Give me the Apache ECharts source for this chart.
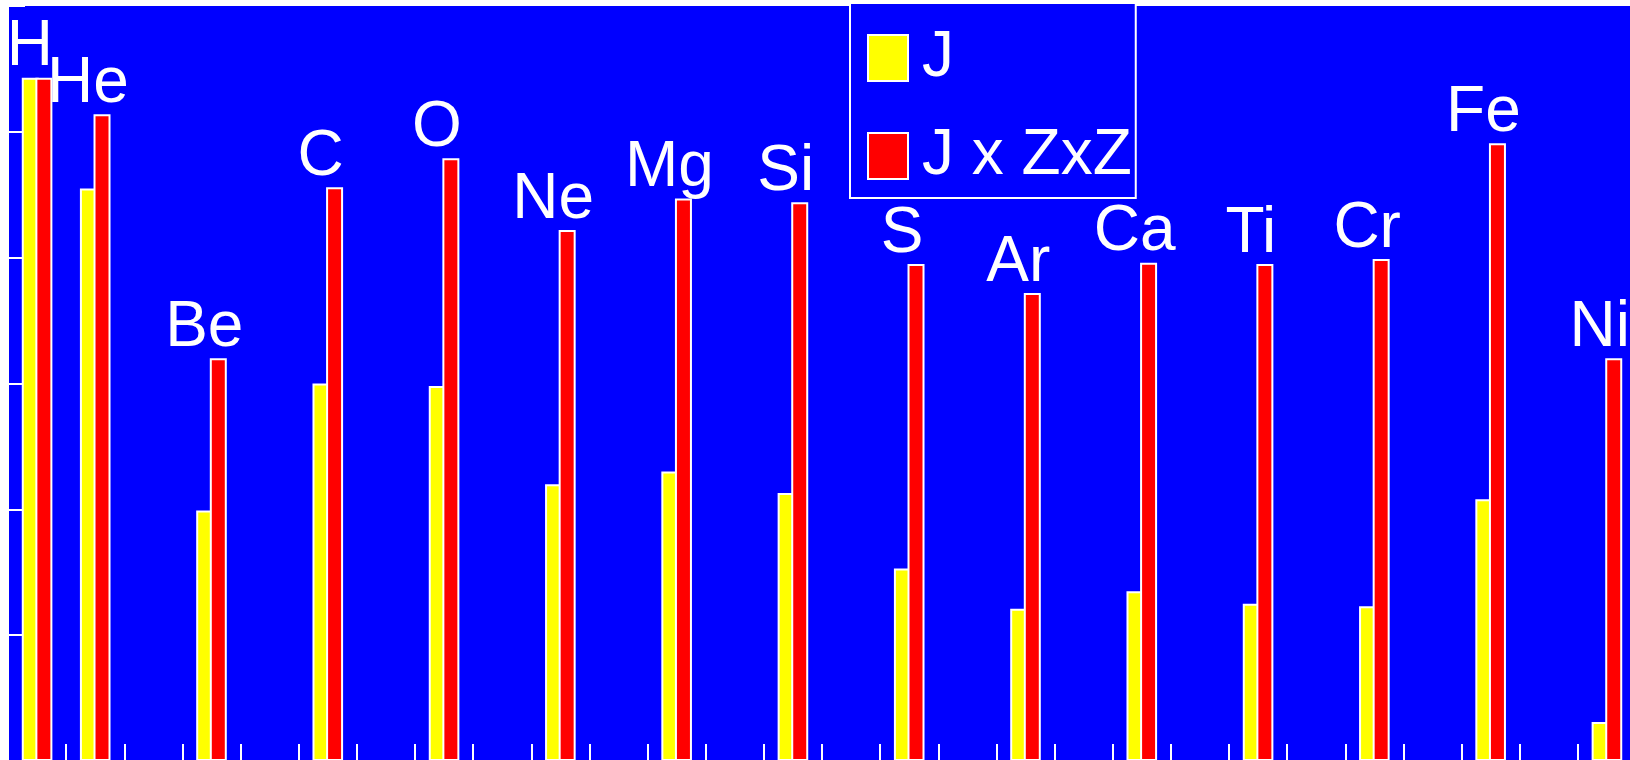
<!DOCTYPE html>
<html>
<head>
<meta charset="utf-8">
<script src="https://cdn.jsdelivr.net/npm/echarts@6/dist/echarts.min.js"></script>
<style>
  html, body { margin: 0; padding: 0; background: #fff; overflow: hidden; }
  #chart { width: 1640px; height: 762px; }
</style>
</head>
<body>
<div id="chart"></div>
<script>
// x axis slots: atomic number Z
const zSlots = [1, 2, 3, 4, 5, 6, 7, 8, 9, 10, 11, 12, 13, 14, 15, 16, 17, 18, 19, 20, 21, 22, 23, 24, 25, 26, 27, 28]
const elements = ['H', 'He', 'Be', 'C', 'O', 'Ne', 'Mg', 'Si', 'S', 'Ar', 'Ca', 'Ti', 'Cr', 'Fe', 'Ni']
const atomicNumbers = [1, 2, 4, 6, 8, 10, 12, 14, 16, 18, 20, 22, 24, 26, 28]
// log10 heights (one tick = one decade)
const logJ = [5.43, 4.55, 1.99, 3.00, 2.98, 2.20, 2.30, 2.13, 1.53, 1.21, 1.35, 1.25, 1.23, 2.08, 0.31]
const logJZZ = [5.43, 5.14, 3.20, 4.56, 4.79, 4.22, 4.47, 4.44, 3.95, 3.72, 3.96, 3.95, 3.99, 4.91, 3.20]

const FONT = "'Liberation Sans Narrow', 'Liberation Sans', Arial, sans-serif"
const FONT_SIZE = 64

function toSlots (values) {
  return zSlots.map((z) => {
    const i = atomicNumbers.indexOf(z)
    return i < 0 ? '-' : values[i]
  })
}

function symbolOf (z) {
  const i = atomicNumbers.indexOf(z)
  return i < 0 ? '' : elements[i]
}

const chart = echarts.init(document.getElementById('chart'))

chart.setOption({
  animation: false,
  backgroundColor: '#ffffff',
  grid: {
    left: 8,
    top: 6,
    right: 4,
    bottom: 1,
    show: true,
    backgroundColor: '#0000ff',
    borderWidth: 0,
  },
  legend: {
    data: ['J', 'J x ZxZ'],
    orient: 'vertical',
    left: 850,
    top: 3,
    itemWidth: 40,
    itemHeight: 46,
    itemGap: 34,
    padding: [23, 4, 10, 17],
    backgroundColor: '#0000ff',
    borderColor: '#ffffff',
    borderWidth: 2,
    borderRadius: 0,
    icon: 'rect',
    textStyle: {
      color: '#ffffff',
      fontSize: FONT_SIZE,
      lineHeight: FONT_SIZE,
      fontFamily: FONT,
      padding: [0, 0, 0, 9],
    },
  },
  xAxis: {
    type: 'category',
    data: zSlots,
    boundaryGap: true,
    axisLine: { show: true, lineStyle: { color: '#ffffff', width: 2 } },
    axisTick: { show: true, inside: true, length: 17, lineStyle: { color: '#ffffff', width: 2 } },
    axisLabel: { show: false },
    splitLine: { show: false },
  },
  yAxis: {
    type: 'value',
    min: 0,
    max: 6,
    interval: 1,
    axisLine: { show: true, lineStyle: { color: '#ffffff', width: 2 } },
    axisTick: { show: true, inside: true, length: 17, lineStyle: { color: '#ffffff', width: 2 } },
    axisLabel: { show: false },
    splitLine: { show: false },
  },
  series: [
    {
      name: 'J',
      type: 'bar',
      data: toSlots(logJ),
      barWidth: 17,
      barGap: '-20%',
      itemStyle: { color: '#ffff00', borderColor: '#ffffff', borderWidth: 2 },
    },
    {
      name: 'J x ZxZ',
      type: 'bar',
      data: toSlots(logJZZ),
      barWidth: 17,
      itemStyle: { color: '#ff0000', borderColor: '#ffffff', borderWidth: 2 },
      label: {
        show: true,
        position: 'top',
        distance: -2,
        offset: [-14, 0],
        color: '#ffffff',
        fontSize: FONT_SIZE,
        lineHeight: FONT_SIZE,
        fontFamily: FONT,
        formatter: p => symbolOf(zSlots[p.dataIndex]),
      },
    },
  ],
})
</script>
</body>
</html>
